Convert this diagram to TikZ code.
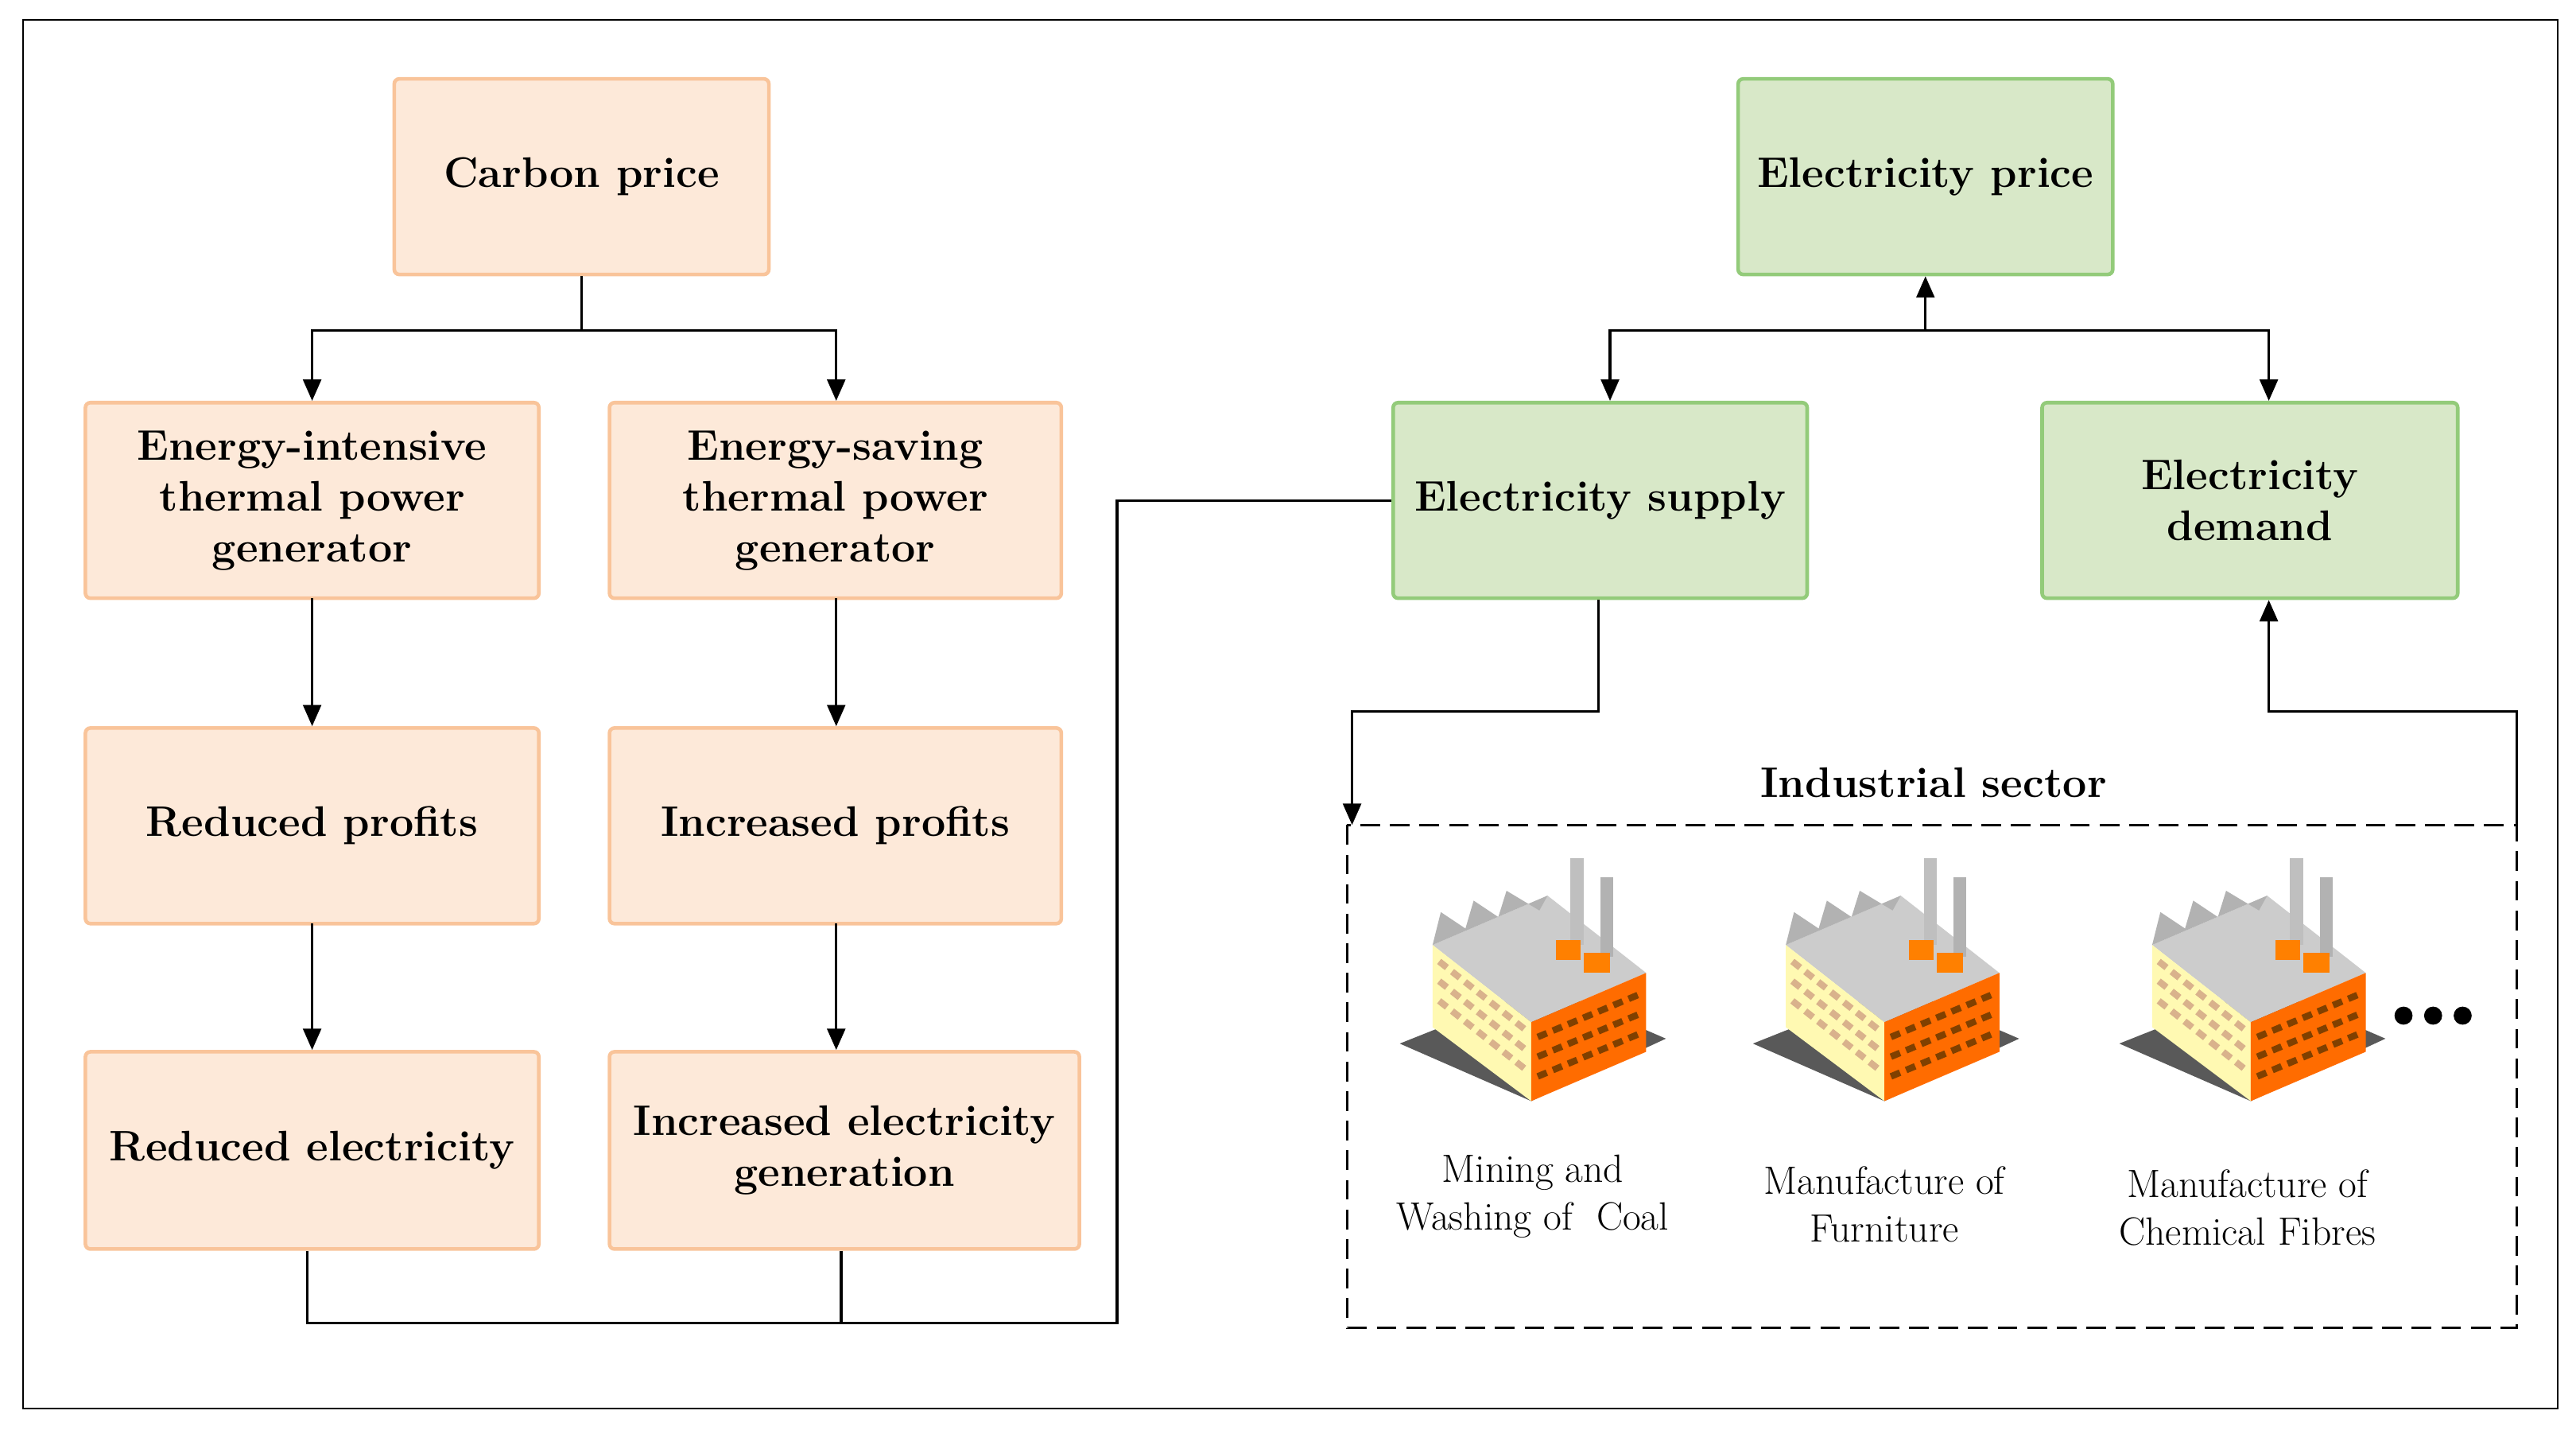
\documentclass[tikz,border=0pt]{standalone}
\usetikzlibrary{arrows.meta}
\begin{document}
\definecolor{ofill}{HTML}{FDE9D9}
\definecolor{oline}{HTML}{F9C49A}
\definecolor{gfill}{HTML}{D8E8C8}
\definecolor{gline}{HTML}{93CB7A}
\tikzset{
 ob/.style={draw=oline,fill=ofill,line width=2.2pt,rounded corners=3pt,font=\fontsize{26}{31}\selectfont\bfseries,align=center},
 gb/.style={ob,draw=gline,fill=gfill},
 con/.style={line width=1.6pt},
 arr/.style={con,-{Triangle[length=13pt,width=11pt]}},
 factory/.pic={
  \fill[gray!70!black] (0,115) -- (80,150) -- (162,112) -- (88,80) -- cycle;
  \fill[gray!40] (20,55) -- (90,25) -- (150,72) -- (80,102) -- cycle;
  \fill[gray!60] (20,55) -- (25,35) -- (40,45) -- (45,28) -- (60,38) -- (65,22) -- (85,34) -- (90,25) -- cycle;
  \fill[orange!15!yellow!30!white] (20,55) -- (80,102) -- (80,150) -- (20,105) -- cycle;
  \fill[orange!85!red] (80,102) -- (150,72) -- (150,120) -- (80,150) -- cycle;
  \foreach \t in {10,22,34}{
   \draw[brown!60,line width=4pt,dash pattern=on 6pt off 4pt] (24,55+\t) -- (77,97+\t);
   \draw[orange!50!black,line width=4pt,dash pattern=on 6pt off 4pt] (84,101+\t) -- (146,75+\t);}
  \fill[gray!50] (104,2) rectangle (112,55);
  \fill[gray!60] (122,14) rectangle (130,62);
  \fill[orange] (95,52) rectangle (110,64);
  \fill[orange] (112,60) rectangle (128,72);
 }
}
\begin{tikzpicture}[x=1pt,y=-1pt]
\fill[white] (0,0) rectangle (1568,870);
\useasboundingbox (0,0) rectangle (1568,870);
\draw[line width=1pt] (14,12) rectangle (1557,857);
\node[ob,minimum width=228pt,minimum height=119pt] (cp) at (354,107.5) {Carbon price};
\node[ob,minimum width=276pt,minimum height=119pt] (ei) at (190,304.5) {Energy-intensive\\thermal power\\generator};
\node[ob,minimum width=275pt,minimum height=119pt] (es) at (508.5,304.5) {Energy-saving\\thermal power\\generator};
\node[ob,minimum width=276pt,minimum height=119pt] (rp) at (190,502.5) {Reduced profits};
\node[ob,minimum width=275pt,minimum height=119pt] (ip) at (508.5,502.5) {Increased profits};
\node[ob,minimum width=276pt,minimum height=120pt] (re) at (190,700) {Reduced electricity};
\node[ob,minimum width=286pt,minimum height=120pt] (ie) at (514,700) {Increased electricity\\generation};
\node[gb,minimum width=228pt,minimum height=119pt] (ep) at (1172,107.5) {Electricity price};
\node[gb,minimum width=252pt,minimum height=119pt] (su) at (974,304.5) {Electricity supply};
\node[gb,minimum width=253pt,minimum height=119pt] (de) at (1369.5,304.5) {Electricity\\demand};
% left tree
\draw[con] (cp.south) -- (354,201) coordinate (j1);
\draw[arr] (j1) -| (ei.north -| 190,0);
\draw[arr] (j1) -| (es.north -| 509,0);
\draw[arr] (190,364) -- (rp.north -| 190,0);
\draw[arr] (509,364) -- (ip.north -| 509,0);
\draw[arr] (190,562) -- (re.north -| 190,0);
\draw[arr] (509,562) -- (ie.north -| 509,0);
\coordinate (b1) at (512,805);
\draw[con] (re.south -| 187,0) |- (680,805) |- (su.west);
\draw[con] (ie.south -| 512,0) -- (b1);
% right tree
\draw[arr] (1172,201) coordinate (j2) -- (ep.south);
\draw[arr] (j2) -| (su.north -| 980,0);
\draw[arr] (j2) -| (de.north -| 1381,0);
\draw[dashed,line width=1.6pt,dash pattern=on 12pt off 6pt] (820,502) rectangle (1532,808);
\node[font=\fontsize{26}{31}\selectfont\bfseries] (is) at (1177,476) {Industrial sector};
\coordinate (dt) at (823,502);
\draw[arr] (su.south -| 973,0) |- (823,433) -- (dt);
\coordinate (dr) at (1532,502);
\draw[arr] (dr) |- (1381,433) -- (de.south -| 1381,0);
\pic at (852,520) {factory};
\pic at (1067,520) {factory};
\pic at (1290,520) {factory};
\foreach \x in {1463,1481,1499} \fill (\x,618) circle (5.5pt);
\tikzset{lab/.style={font=\fontsize{24}{29}\selectfont,align=center}}
\node[lab] (l1) at (933,728) {Mining and\\Washing of\ \ Coal};
\node[lab] (l2) at (1147,733) {Manufacture of\\Furniture};
\node[lab] (l3) at (1368,735) {Manufacture of\\Chemical Fibres};
\end{tikzpicture}
\end{document}
